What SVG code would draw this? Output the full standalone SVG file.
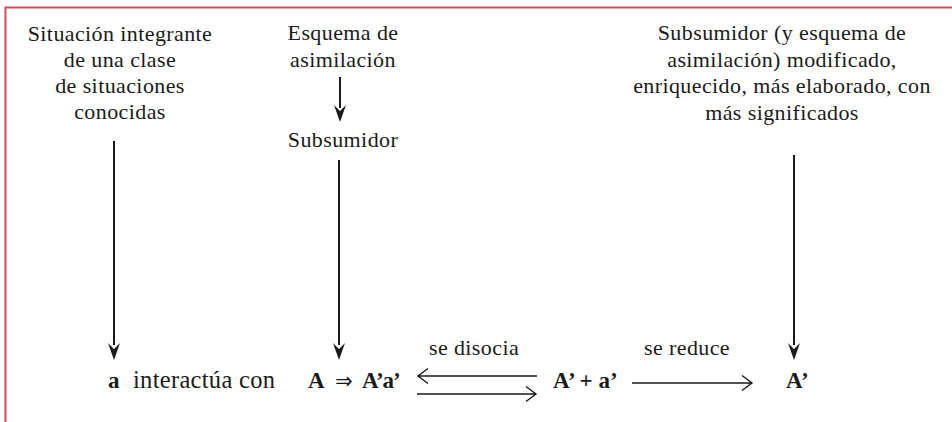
<svg xmlns="http://www.w3.org/2000/svg" width="952" height="422" viewBox="0 0 952 422">
<style>
text{fill:#1a1a1a;font-family:"Liberation Serif","Times New Roman",serif}
.t{font-size:22px;text-anchor:middle;letter-spacing:0.4px}
.b{font-size:24.5px;letter-spacing:0.3px}
.bb{font-size:23px;font-weight:bold}
.sym{font-family:"DejaVu Sans",sans-serif;font-size:21px}
.v{stroke:#1a1a1a;stroke-width:2;fill:none}
.h{stroke:#1a1a1a;stroke-width:1.4;fill:none}
.head{fill:#1a1a1a}
</style>
<rect width="952" height="422" fill="#ffffff"/>
<path d="M5.5,422 V7.5 H952" stroke="#d94a5b" stroke-width="2" fill="none"/>

<g id="n-situacion">
<text class="t" x="120" y="41">Situación integrante</text>
<text class="t" x="120" y="67">de una clase</text>
<text class="t" x="120" y="93">de situaciones</text>
<text class="t" x="120" y="119">conocidas</text>
</g>
<g id="n-esquema">
<text class="t" x="343" y="40">Esquema de</text>
<text class="t" x="343" y="67">asimilación</text>
</g>
<g id="n-subsumidor">
<text class="t" x="343" y="147">Subsumidor</text>
</g>
<g id="n-modificado">
<text class="t" x="782" y="40">Subsumidor (y esquema de</text>
<text class="t" x="782" y="67">asimilación) modificado,</text>
<text class="t" x="782" y="93">enriquecido, más elaborado, con</text>
<text class="t" x="782" y="120">más significados</text>
</g>
<g id="n-a">
<text class="bb" x="108" y="388">a</text>
<text class="b" x="133" y="388">interactúa con</text>
</g>
<g id="n-A">
<text class="bb" x="308" y="388">A</text>
<text class="sym" x="335" y="388">⇒</text>
<text class="bb" x="362" y="388" letter-spacing="-1">A’a’</text>
</g>
<g id="n-Apa">
<text class="bb" x="553" y="388">A’ + a’</text>
</g>
<g id="n-Ap">
<text class="bb" x="786" y="388">A’</text>
</g>
<g id="labels">
<text class="t" x="474" y="355">se disocia</text>
<text class="t" x="687" y="355">se reduce</text>
</g>

<g id="connectors">
<path class="v" d="M114,141 V345"/>
<path class="head" d="M114,360 L108,343 L114,349 L120,343 Z"/>
<path class="v" d="M340,77 V108"/>
<path class="head" d="M340,122 L334,105 L340,111 L346,105 Z"/>
<path class="v" d="M339,160 V345"/>
<path class="head" d="M339,360 L333,343 L339,349 L345,343 Z"/>
<path class="v" d="M794,155 V345"/>
<path class="head" d="M794,360 L788,343 L794,349 L800,343 Z"/>
<path class="h" d="M537,376 H418 M428,368.5 L418,376 L428,383.5"/>
<path class="h" d="M417,394 H536 M526,386.5 L536,394 L526,401.5"/>
<path class="h" d="M632,383 H752 M742,375.5 L752,383 L742,390.5"/>
</g>
</svg>
